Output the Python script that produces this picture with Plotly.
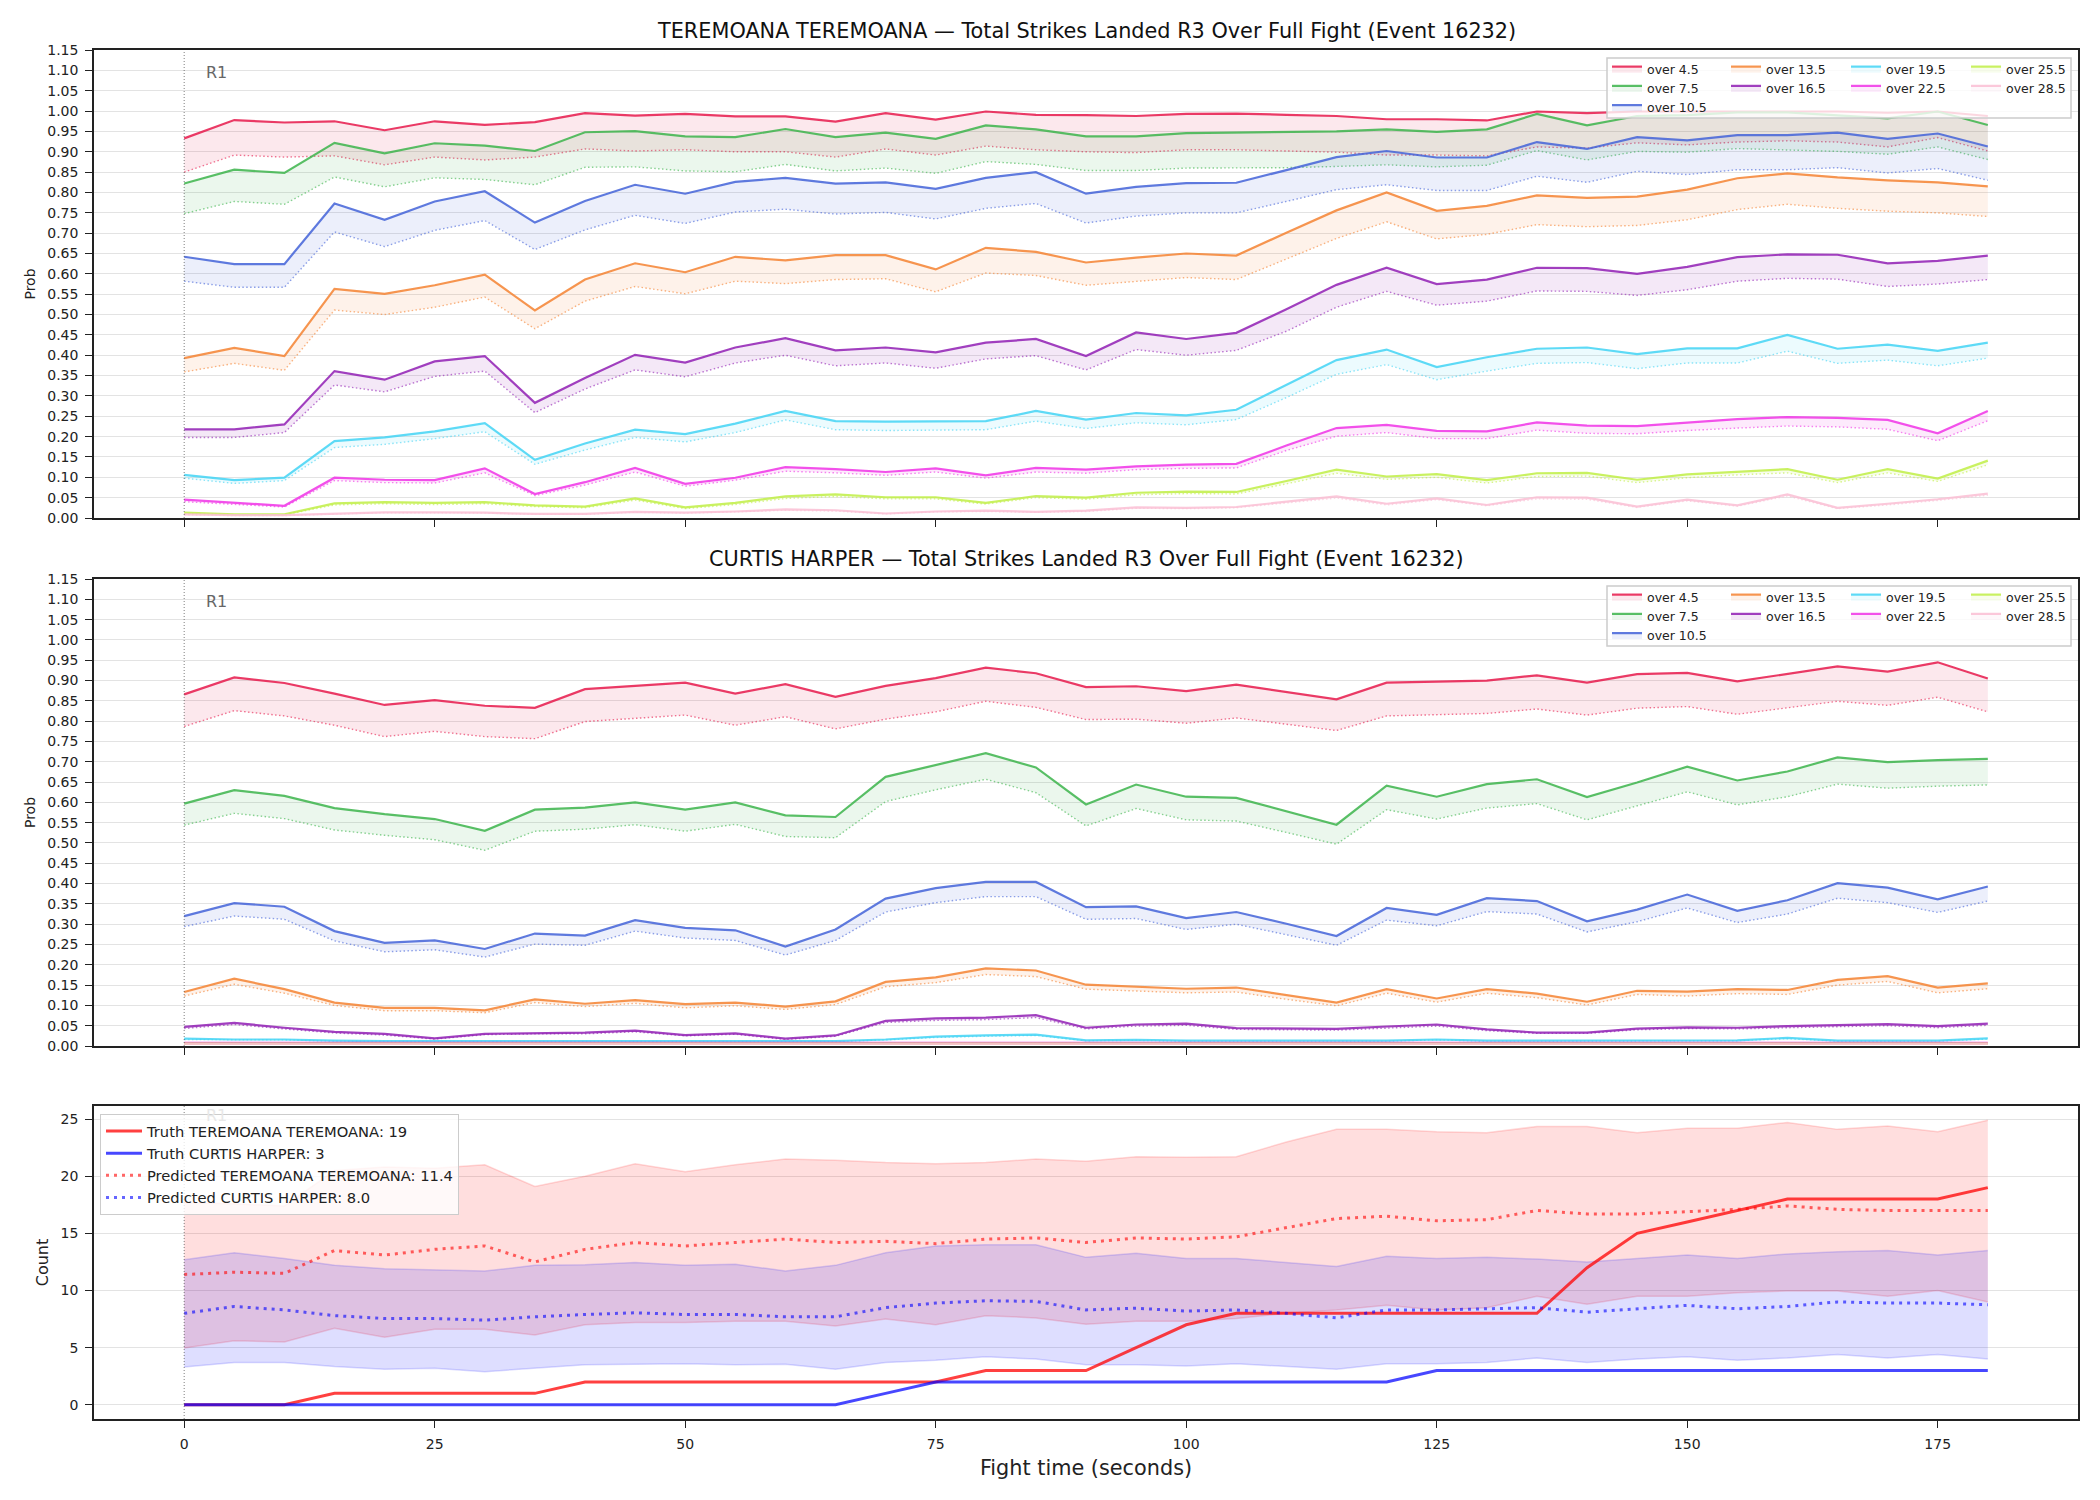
import plotly.graph_objects as go
from plotly.subplots import make_subplots

# ---------------- data ----------------
T = [0, 5, 10, 15, 20, 25, 30, 35, 40, 45, 50, 55, 60, 65, 70, 75, 80, 85,
     90, 95, 100, 105, 110, 115, 120, 125, 130, 135, 140, 145, 150, 155, 160, 165, 170, 175, 180]

LINE_NAMES = ['over 4.5', 'over 7.5', 'over 10.5', 'over 13.5', 'over 16.5',
              'over 19.5', 'over 22.5', 'over 25.5', 'over 28.5']
COLORS = ['#e6194b', '#3cb44b', '#4363d8', '#f58231', '#911eb4',
          '#42d4f4', '#f032e6', '#bfef45', '#fabed4']

TITLE_1 = 'TEREMOANA TEREMOANA \u2014 Total Strikes Landed R3 Over Full Fight (Event 16232)'
TITLE_2 = 'CURTIS HARPER \u2014 Total Strikes Landed R3 Over Full Fight (Event 16232)'

# TEREMOANA TEREMOANA: model probability (solid) and lower reference (dotted)
TER_O45 = [0.933, 0.978, 0.972, 0.975, 0.953, 0.975, 0.966, 0.973, 0.995, 0.989, 0.993, 0.987, 0.987, 0.974, 0.995, 0.979, 0.999, 0.991,
           0.990, 0.988, 0.993, 0.994, 0.991, 0.988, 0.980, 0.980, 0.977, 0.999, 0.995, 0.999, 0.999, 0.999, 0.999, 0.999, 0.996, 0.999, 0.988]
TER_O45_D = [0.850, 0.892, 0.887, 0.890, 0.868, 0.887, 0.880, 0.887, 0.907, 0.902, 0.905, 0.900, 0.900, 0.887, 0.907, 0.892, 0.914, 0.905,
             0.900, 0.898, 0.905, 0.905, 0.902, 0.899, 0.892, 0.892, 0.890, 0.912, 0.909, 0.922, 0.917, 0.924, 0.927, 0.924, 0.912, 0.935, 0.902]
TER_O75 = [0.822, 0.856, 0.848, 0.922, 0.896, 0.921, 0.915, 0.902, 0.948, 0.951, 0.938, 0.936, 0.956, 0.936, 0.947, 0.932, 0.965, 0.955,
           0.938, 0.938, 0.946, 0.947, 0.949, 0.950, 0.955, 0.949, 0.955, 0.993, 0.965, 0.988, 0.990, 0.997, 0.997, 0.990, 0.982, 0.999, 0.966]
TER_O75_D = [0.748, 0.778, 0.771, 0.838, 0.814, 0.836, 0.832, 0.819, 0.862, 0.863, 0.853, 0.851, 0.869, 0.853, 0.860, 0.847, 0.876, 0.869,
             0.854, 0.854, 0.860, 0.861, 0.861, 0.864, 0.868, 0.863, 0.867, 0.903, 0.880, 0.901, 0.899, 0.908, 0.905, 0.901, 0.894, 0.912, 0.881]
TER_O105 = [0.642, 0.624, 0.624, 0.773, 0.733, 0.778, 0.803, 0.726, 0.779, 0.819, 0.797, 0.826, 0.836, 0.822, 0.825, 0.809, 0.836, 0.850,
            0.797, 0.814, 0.823, 0.824, 0.855, 0.887, 0.902, 0.886, 0.886, 0.924, 0.907, 0.936, 0.928, 0.941, 0.941, 0.947, 0.932, 0.945, 0.913]
TER_O105_D = [0.582, 0.567, 0.567, 0.703, 0.667, 0.707, 0.731, 0.660, 0.708, 0.744, 0.724, 0.752, 0.759, 0.747, 0.751, 0.735, 0.761, 0.773,
              0.725, 0.742, 0.750, 0.750, 0.778, 0.807, 0.819, 0.805, 0.805, 0.840, 0.825, 0.852, 0.844, 0.856, 0.856, 0.861, 0.848, 0.859, 0.830]
TER_O135 = [0.393, 0.418, 0.398, 0.563, 0.551, 0.572, 0.598, 0.510, 0.586, 0.626, 0.604, 0.642, 0.633, 0.646, 0.646, 0.611, 0.664, 0.654,
            0.628, 0.640, 0.650, 0.645, 0.701, 0.756, 0.800, 0.755, 0.767, 0.793, 0.787, 0.790, 0.807, 0.835, 0.847, 0.837, 0.830, 0.825, 0.815]
TER_O135_D = [0.359, 0.380, 0.363, 0.511, 0.500, 0.518, 0.543, 0.465, 0.533, 0.569, 0.551, 0.582, 0.576, 0.586, 0.588, 0.556, 0.602, 0.596,
              0.572, 0.582, 0.591, 0.586, 0.636, 0.687, 0.728, 0.686, 0.697, 0.721, 0.716, 0.719, 0.733, 0.758, 0.771, 0.761, 0.754, 0.750, 0.741]
TER_O165 = [0.218, 0.218, 0.230, 0.361, 0.340, 0.385, 0.398, 0.283, 0.344, 0.401, 0.382, 0.419, 0.442, 0.412, 0.419, 0.407, 0.431, 0.440,
            0.398, 0.456, 0.440, 0.455, 0.513, 0.573, 0.615, 0.575, 0.586, 0.615, 0.614, 0.600, 0.617, 0.641, 0.648, 0.647, 0.626, 0.632, 0.645]
TER_O165_D = [0.198, 0.198, 0.210, 0.327, 0.310, 0.348, 0.361, 0.259, 0.317, 0.364, 0.347, 0.381, 0.400, 0.374, 0.381, 0.368, 0.391, 0.399,
              0.364, 0.414, 0.400, 0.412, 0.459, 0.518, 0.557, 0.523, 0.533, 0.558, 0.557, 0.547, 0.561, 0.582, 0.589, 0.587, 0.569, 0.575, 0.586]
TER_O195 = [0.106, 0.093, 0.099, 0.189, 0.198, 0.213, 0.233, 0.143, 0.183, 0.217, 0.206, 0.232, 0.263, 0.238, 0.237, 0.237, 0.238, 0.263,
            0.242, 0.258, 0.252, 0.266, 0.327, 0.388, 0.414, 0.371, 0.395, 0.416, 0.419, 0.403, 0.417, 0.417, 0.450, 0.416, 0.426, 0.411, 0.431]
TER_O195_D = [0.098, 0.085, 0.092, 0.173, 0.181, 0.195, 0.212, 0.132, 0.167, 0.198, 0.187, 0.210, 0.241, 0.217, 0.215, 0.216, 0.217, 0.238,
              0.220, 0.234, 0.229, 0.242, 0.296, 0.353, 0.377, 0.340, 0.361, 0.380, 0.382, 0.367, 0.381, 0.381, 0.410, 0.380, 0.388, 0.374, 0.393]
TER_O225 = [0.045, 0.037, 0.030, 0.099, 0.094, 0.093, 0.122, 0.059, 0.088, 0.123, 0.084, 0.099, 0.125, 0.120, 0.113, 0.122, 0.105, 0.123,
            0.119, 0.127, 0.131, 0.133, 0.178, 0.221, 0.229, 0.214, 0.213, 0.235, 0.227, 0.226, 0.235, 0.243, 0.248, 0.246, 0.241, 0.208, 0.263]
TER_O225_D = [0.040, 0.033, 0.027, 0.092, 0.087, 0.086, 0.111, 0.055, 0.081, 0.113, 0.078, 0.093, 0.115, 0.111, 0.105, 0.113, 0.098, 0.113,
              0.110, 0.119, 0.122, 0.123, 0.166, 0.201, 0.210, 0.195, 0.195, 0.216, 0.208, 0.207, 0.215, 0.221, 0.226, 0.224, 0.218, 0.190, 0.239]
TER_O255 = [0.013, 0.009, 0.009, 0.036, 0.039, 0.037, 0.039, 0.031, 0.028, 0.048, 0.026, 0.037, 0.053, 0.058, 0.051, 0.051, 0.037, 0.054,
            0.050, 0.062, 0.065, 0.064, 0.091, 0.119, 0.102, 0.108, 0.093, 0.110, 0.111, 0.094, 0.107, 0.114, 0.120, 0.094, 0.120, 0.097, 0.141]
TER_O255_D = [0.011, 0.008, 0.008, 0.032, 0.035, 0.033, 0.035, 0.028, 0.025, 0.044, 0.023, 0.033, 0.048, 0.053, 0.047, 0.047, 0.034, 0.050,
              0.046, 0.057, 0.060, 0.059, 0.084, 0.110, 0.095, 0.100, 0.086, 0.102, 0.103, 0.087, 0.099, 0.106, 0.111, 0.087, 0.111, 0.090, 0.131]
TER_O285 = [0.009, 0.007, 0.007, 0.011, 0.014, 0.014, 0.013, 0.010, 0.010, 0.015, 0.013, 0.016, 0.021, 0.019, 0.011, 0.016, 0.018, 0.015,
            0.018, 0.026, 0.025, 0.027, 0.040, 0.053, 0.035, 0.048, 0.032, 0.051, 0.050, 0.028, 0.045, 0.031, 0.058, 0.025, 0.035, 0.046, 0.060]
TER_O285_D = [0.008, 0.006, 0.006, 0.010, 0.013, 0.013, 0.012, 0.009, 0.009, 0.014, 0.012, 0.015, 0.019, 0.017, 0.010, 0.015, 0.016, 0.014,
              0.016, 0.024, 0.023, 0.025, 0.037, 0.049, 0.032, 0.045, 0.030, 0.047, 0.046, 0.026, 0.042, 0.029, 0.054, 0.023, 0.032, 0.043, 0.056]

# CURTIS HARPER
CUR_O45 = [0.866, 0.908, 0.894, 0.868, 0.840, 0.852, 0.838, 0.833, 0.879, 0.887, 0.895, 0.868, 0.891, 0.860, 0.887, 0.906, 0.932, 0.918,
           0.884, 0.886, 0.874, 0.890, 0.872, 0.854, 0.895, 0.898, 0.900, 0.913, 0.895, 0.916, 0.919, 0.898, 0.916, 0.935, 0.922, 0.945, 0.905]
CUR_O45_D = [0.787, 0.826, 0.813, 0.790, 0.762, 0.775, 0.762, 0.757, 0.799, 0.807, 0.815, 0.790, 0.811, 0.781, 0.805, 0.823, 0.849, 0.834,
             0.804, 0.805, 0.795, 0.808, 0.793, 0.777, 0.813, 0.816, 0.819, 0.830, 0.815, 0.832, 0.836, 0.817, 0.833, 0.849, 0.839, 0.859, 0.823]
CUR_O75 = [0.597, 0.630, 0.616, 0.586, 0.571, 0.559, 0.530, 0.582, 0.587, 0.600, 0.582, 0.600, 0.568, 0.564, 0.663, 0.692, 0.721, 0.686,
           0.595, 0.644, 0.614, 0.611, 0.578, 0.545, 0.641, 0.614, 0.645, 0.657, 0.613, 0.649, 0.688, 0.654, 0.676, 0.711, 0.699, 0.704, 0.707]
CUR_O75_D = [0.544, 0.573, 0.560, 0.532, 0.519, 0.508, 0.482, 0.529, 0.534, 0.545, 0.529, 0.546, 0.516, 0.513, 0.602, 0.631, 0.657, 0.624,
             0.542, 0.585, 0.557, 0.554, 0.526, 0.497, 0.582, 0.559, 0.586, 0.597, 0.557, 0.591, 0.626, 0.594, 0.614, 0.645, 0.635, 0.640, 0.643]
CUR_O105 = [0.320, 0.352, 0.343, 0.283, 0.254, 0.260, 0.239, 0.277, 0.272, 0.310, 0.291, 0.285, 0.245, 0.287, 0.363, 0.389, 0.404, 0.404,
            0.342, 0.344, 0.315, 0.330, 0.301, 0.271, 0.340, 0.323, 0.364, 0.357, 0.307, 0.336, 0.373, 0.333, 0.359, 0.401, 0.390, 0.361, 0.393]
CUR_O105_D = [0.294, 0.320, 0.312, 0.259, 0.232, 0.237, 0.219, 0.251, 0.248, 0.283, 0.266, 0.260, 0.224, 0.260, 0.330, 0.353, 0.368, 0.368,
              0.312, 0.314, 0.287, 0.300, 0.274, 0.248, 0.310, 0.296, 0.331, 0.325, 0.281, 0.306, 0.340, 0.304, 0.325, 0.364, 0.353, 0.329, 0.357]
CUR_O135 = [0.133, 0.166, 0.140, 0.107, 0.094, 0.094, 0.088, 0.115, 0.104, 0.113, 0.103, 0.107, 0.097, 0.110, 0.158, 0.169, 0.191, 0.186,
            0.151, 0.146, 0.141, 0.144, 0.125, 0.107, 0.140, 0.117, 0.140, 0.129, 0.109, 0.136, 0.134, 0.140, 0.138, 0.163, 0.172, 0.144, 0.154]
CUR_O135_D = [0.123, 0.152, 0.130, 0.100, 0.087, 0.087, 0.082, 0.107, 0.097, 0.105, 0.094, 0.099, 0.090, 0.102, 0.146, 0.156, 0.176, 0.171,
              0.140, 0.136, 0.131, 0.133, 0.115, 0.099, 0.130, 0.108, 0.130, 0.119, 0.101, 0.127, 0.123, 0.129, 0.127, 0.150, 0.159, 0.131, 0.141]
CUR_O165 = [0.047, 0.057, 0.045, 0.035, 0.030, 0.019, 0.030, 0.032, 0.033, 0.038, 0.027, 0.031, 0.018, 0.026, 0.062, 0.068, 0.070, 0.076,
            0.045, 0.053, 0.055, 0.044, 0.043, 0.042, 0.048, 0.053, 0.041, 0.033, 0.033, 0.043, 0.046, 0.045, 0.049, 0.052, 0.054, 0.049, 0.055]
CUR_O165_D = [0.043, 0.053, 0.042, 0.032, 0.027, 0.017, 0.028, 0.030, 0.030, 0.035, 0.025, 0.029, 0.016, 0.024, 0.058, 0.063, 0.065, 0.070,
              0.042, 0.049, 0.051, 0.041, 0.040, 0.039, 0.044, 0.049, 0.038, 0.031, 0.031, 0.040, 0.043, 0.042, 0.045, 0.048, 0.050, 0.045, 0.051]
CUR_O195 = [0.018, 0.016, 0.016, 0.013, 0.012, 0.012, 0.012, 0.012, 0.012, 0.012, 0.012, 0.012, 0.012, 0.012, 0.016, 0.023, 0.026, 0.028,
            0.014, 0.015, 0.013, 0.013, 0.013, 0.013, 0.013, 0.016, 0.013, 0.013, 0.013, 0.013, 0.013, 0.014, 0.020, 0.013, 0.013, 0.013, 0.019]
CUR_O195_D = [0.016, 0.015, 0.015, 0.012, 0.011, 0.011, 0.011, 0.011, 0.011, 0.011, 0.011, 0.011, 0.011, 0.011, 0.015, 0.021, 0.024, 0.026,
              0.013, 0.014, 0.012, 0.012, 0.012, 0.012, 0.012, 0.015, 0.012, 0.012, 0.012, 0.012, 0.012, 0.013, 0.018, 0.012, 0.012, 0.012, 0.017]
CUR_O225 = [0.008, 0.008, 0.008, 0.007, 0.007, 0.007, 0.007, 0.007, 0.007, 0.007, 0.007, 0.007, 0.007, 0.007, 0.008, 0.008, 0.008, 0.008,
            0.007, 0.007, 0.007, 0.007, 0.007, 0.007, 0.007, 0.007, 0.007, 0.007, 0.007, 0.007, 0.007, 0.007, 0.008, 0.007, 0.007, 0.007, 0.008]
CUR_O225_D = [0.007, 0.007, 0.007, 0.006, 0.006, 0.006, 0.006, 0.006, 0.006, 0.006, 0.006, 0.006, 0.006, 0.006, 0.007, 0.007, 0.007, 0.007,
              0.006, 0.006, 0.006, 0.006, 0.006, 0.006, 0.006, 0.006, 0.006, 0.006, 0.006, 0.006, 0.006, 0.006, 0.007, 0.006, 0.006, 0.006, 0.007]
CUR_O255 = [0.006, 0.006, 0.006, 0.006, 0.006, 0.006, 0.006, 0.006, 0.006, 0.006, 0.006, 0.006, 0.006, 0.006, 0.006, 0.006, 0.007, 0.007,
            0.006, 0.006, 0.006, 0.006, 0.006, 0.006, 0.006, 0.006, 0.006, 0.006, 0.006, 0.006, 0.006, 0.006, 0.006, 0.006, 0.006, 0.006, 0.006]
CUR_O255_D = [0.005, 0.005, 0.005, 0.005, 0.005, 0.005, 0.005, 0.005, 0.005, 0.005, 0.005, 0.005, 0.005, 0.005, 0.005, 0.005, 0.006, 0.006,
              0.005, 0.005, 0.005, 0.005, 0.005, 0.005, 0.005, 0.005, 0.005, 0.005, 0.005, 0.005, 0.005, 0.005, 0.005, 0.005, 0.005, 0.005, 0.005]
CUR_O285 = [0.005, 0.005, 0.005, 0.005, 0.005, 0.005, 0.005, 0.005, 0.005, 0.005, 0.005, 0.005, 0.005, 0.005, 0.005, 0.005, 0.005, 0.005,
            0.005, 0.005, 0.005, 0.005, 0.005, 0.005, 0.005, 0.005, 0.005, 0.005, 0.005, 0.005, 0.005, 0.005, 0.005, 0.005, 0.005, 0.005, 0.005]
CUR_O285_D = [0.004, 0.004, 0.004, 0.004, 0.004, 0.004, 0.004, 0.004, 0.004, 0.004, 0.004, 0.004, 0.004, 0.004, 0.004, 0.004, 0.004, 0.004,
              0.004, 0.004, 0.004, 0.004, 0.004, 0.004, 0.004, 0.004, 0.004, 0.004, 0.004, 0.004, 0.004, 0.004, 0.004, 0.004, 0.004, 0.004, 0.004]

# Count panel
TRUTH_TER = [0, 0, 0, 1, 1, 1, 1, 1, 2, 2, 2, 2, 2, 2, 2, 2, 3, 3,
             3, 5, 7, 8, 8, 8, 8, 8, 8, 8, 12, 15, 16, 17, 18, 18, 18, 18, 19]
TRUTH_CUR = [0, 0, 0, 0, 0, 0, 0, 0, 0, 0, 0, 0, 0, 0, 1, 2, 2, 2,
             2, 2, 2, 2, 2, 2, 2, 3, 3, 3, 3, 3, 3, 3, 3, 3, 3, 3, 3]
PRED_TER = [11.4, 11.6, 11.5, 13.5, 13.1, 13.6, 13.9, 12.5, 13.6, 14.2, 13.9, 14.2, 14.5, 14.2, 14.3, 14.1, 14.5, 14.6,
            14.2, 14.6, 14.5, 14.7, 15.5, 16.3, 16.5, 16.1, 16.2, 17.0, 16.7, 16.7, 16.9, 17.1, 17.4, 17.1, 17.0, 17.0, 17.0]
PRED_TER_HI = [17.7, 17.6, 17.4, 20.5, 20.8, 20.7, 21.0, 19.1, 20.0, 21.1, 20.4, 21.0, 21.5, 21.4, 21.2, 21.1, 21.2, 21.5,
               21.3, 21.7, 21.65, 21.7, 23.0, 24.1, 24.1, 23.9, 23.8, 24.35, 24.35, 23.8, 24.2, 24.2, 24.7, 24.1, 24.4, 23.9, 24.9]
PRED_TER_LO = [4.96, 5.6, 5.5, 6.7, 5.9, 6.6, 6.6, 6.1, 7.0, 7.2, 7.2, 7.3, 7.3, 6.9, 7.5, 7.0, 7.8, 7.6,
               7.05, 7.3, 7.3, 7.55, 8.0, 8.3, 8.7, 8.3, 8.5, 9.5, 8.8, 9.5, 9.5, 9.8, 9.96, 9.96, 9.5, 10.0, 9.0]
PRED_CUR = [8.0, 8.6, 8.3, 7.8, 7.55, 7.55, 7.4, 7.7, 7.9, 8.05, 7.9, 7.9, 7.7, 7.7, 8.5, 8.9, 9.1, 9.05,
            8.3, 8.45, 8.2, 8.3, 8.0, 7.6, 8.3, 8.3, 8.4, 8.5, 8.1, 8.4, 8.7, 8.4, 8.6, 9.0, 8.9, 8.9, 8.75]
PRED_CUR_HI = [12.7, 13.3, 12.8, 12.2, 11.9, 11.8, 11.7, 12.2, 12.25, 12.45, 12.2, 12.3, 11.7, 12.2, 13.3, 13.9, 14.0, 14.0,
               12.9, 13.25, 12.8, 12.8, 12.45, 12.1, 13.0, 12.8, 12.9, 12.75, 12.5, 12.8, 13.1, 12.8, 13.2, 13.4, 13.5, 13.1, 13.5]
PRED_CUR_LO = [3.3, 3.7, 3.7, 3.35, 3.1, 3.2, 2.9, 3.2, 3.5, 3.55, 3.6, 3.5, 3.55, 3.1, 3.7, 3.9, 4.2, 4.0,
               3.5, 3.5, 3.4, 3.6, 3.35, 3.1, 3.6, 3.6, 3.7, 4.1, 3.7, 4.0, 4.2, 3.9, 4.1, 4.4, 4.1, 4.4, 4.0]

TER_SOLID = [TER_O45, TER_O75, TER_O105, TER_O135, TER_O165, TER_O195, TER_O225, TER_O255, TER_O285]
TER_DOT = [TER_O45_D, TER_O75_D, TER_O105_D, TER_O135_D, TER_O165_D, TER_O195_D, TER_O225_D, TER_O255_D, TER_O285_D]
CUR_SOLID = [CUR_O45, CUR_O75, CUR_O105, CUR_O135, CUR_O165, CUR_O195, CUR_O225, CUR_O255, CUR_O285]
CUR_DOT = [CUR_O45_D, CUR_O75_D, CUR_O105_D, CUR_O135_D, CUR_O165_D, CUR_O195_D, CUR_O225_D, CUR_O255_D, CUR_O285_D]

# ---------------- figure ----------------
FONT = 'DejaVu Sans'
W, H = 2100, 1500
ML, MR, MT, MB = 94, 22, 50, 81
PW = W - ML - MR
PH = H - MT - MB


def px_x(px):
    return (px - ML) / PW


def px_y(py):
    return (H - MB - py) / PH


def rgba(hexc, a):
    h = hexc.lstrip('#')
    r, g, b = int(h[0:2], 16), int(h[2:4], 16), int(h[4:6], 16)
    return 'rgba(%d,%d,%d,%.3f)' % (r, g, b, a)


fig = make_subplots(rows=3, cols=1)

COL_OF = [0, 0, 0, 1, 1, 2, 2, 3, 3]
panel_sets = [(TER_SOLID, TER_DOT, 0), (CUR_SOLID, CUR_DOT, 4)]
for p, (solids, dots, lg0) in enumerate(panel_sets):
    row = p + 1
    for i in range(9):
        c = COLORS[i]
        fig.add_trace(go.Scatter(
            x=T, y=dots[i], mode='lines',
            line=dict(color=rgba(c, 0.6), width=1.4, dash='1.5px,2.4px'),
            showlegend=False, hoverinfo='skip'), row=row, col=1)
        lg_idx = lg0 + COL_OF[i] + 1
        lg_name = 'legend' if lg_idx == 1 else 'legend%d' % lg_idx
        fig.add_trace(go.Scatter(
            x=T, y=solids[i], mode='lines', name=LINE_NAMES[i],
            line=dict(color=rgba(c, 0.85), width=2.2),
            fill='tonexty', fillcolor=rgba(c, 0.10),
            legend=lg_name, showlegend=True), row=row, col=1)

# count panel bands
fig.add_trace(go.Scatter(x=T, y=PRED_TER_LO, mode='lines', line=dict(color='rgba(255,0,0,0.15)', width=1.5),
                         showlegend=False, hoverinfo='skip'), row=3, col=1)
fig.add_trace(go.Scatter(x=T, y=PRED_TER_HI, mode='lines', line=dict(color='rgba(255,0,0,0.15)', width=1.5),
                         fill='tonexty', fillcolor='rgba(255,0,0,0.13)', showlegend=False, hoverinfo='skip'), row=3, col=1)
fig.add_trace(go.Scatter(x=T, y=PRED_CUR_LO, mode='lines', line=dict(color='rgba(0,0,255,0.15)', width=1.5),
                         showlegend=False, hoverinfo='skip'), row=3, col=1)
fig.add_trace(go.Scatter(x=T, y=PRED_CUR_HI, mode='lines', line=dict(color='rgba(0,0,255,0.15)', width=1.5),
                         fill='tonexty', fillcolor='rgba(0,0,255,0.13)', showlegend=False, hoverinfo='skip'), row=3, col=1)
fig.add_trace(go.Scatter(x=T, y=TRUTH_TER, mode='lines', name='Truth TEREMOANA TEREMOANA: 19',
                         line=dict(color='rgba(255,0,0,0.75)', width=3), legend='legend9'), row=3, col=1)
fig.add_trace(go.Scatter(x=T, y=TRUTH_CUR, mode='lines', name='Truth CURTIS HARPER: 3',
                         line=dict(color='rgba(0,0,255,0.72)', width=3), legend='legend9'), row=3, col=1)
fig.add_trace(go.Scatter(x=T, y=PRED_TER, mode='lines', name='Predicted TEREMOANA TEREMOANA: 11.4',
                         line=dict(color='rgba(255,0,0,0.6)', width=3, dash='3px,5px'), legend='legend9'), row=3, col=1)
fig.add_trace(go.Scatter(x=T, y=PRED_CUR, mode='lines', name='Predicted CURTIS HARPER: 8.0',
                         line=dict(color='rgba(0,0,255,0.6)', width=3, dash='3px,5px'), legend='legend9'), row=3, col=1)

# ---------------- axes ----------------
axis_common = dict(showline=True, linecolor='#222222', linewidth=1.5, mirror=True,
                   ticks='outside', ticklen=7, tickwidth=1.3, tickcolor='#222222',
                   tickfont=dict(family=FONT, size=14, color='#222222'), zeroline=False,
                   ticklabelstandoff=4)
XT = [0, 25, 50, 75, 100, 125, 150, 175]
for k, dom in zip(['', '2', '3'], [[px_y(518), 1.0], [px_y(1046), px_y(579)], [0.0, px_y(1106)]]):
    fig.layout['xaxis' + k].update(range=[-9, 189], tickvals=XT, showgrid=False,
                                   showticklabels=(k == '3'), **axis_common)
    fig.layout['yaxis' + k].update(domain=dom, showgrid=True, gridcolor='#e3e3e3', gridwidth=1, **axis_common)

for k in ['', '2']:
    fig.layout['yaxis' + k].update(range=[0, 1.1502], dtick=0.05, tick0=0, tickformat='.2f',
                                   title=dict(text='Prob', font=dict(family=FONT, size=14, color='#222'), standoff=8))
fig.layout.yaxis3.update(range=[-1.245, 26.145], dtick=5, tick0=0,
                         title=dict(text='Count', font=dict(family=FONT, size=16, color='#222'), standoff=8))
fig.layout.xaxis3.update(title=dict(text='Fight time (seconds)', font=dict(family=FONT, size=20.8, color='#222'), standoff=10))

# vertical round marker lines
shapes = []
for k in ['', '2', '3']:
    shapes.append(dict(type='line', xref='x' + k, yref=('y' + k + ' domain'), x0=0, x1=0, y0=0, y1=1,
                       line=dict(color='rgba(70,70,70,0.7)', width=1, dash='1px,2px'), layer='above'))

# legend frames for the two probability panels
for top_px in [58, 586]:
    shapes.append(dict(type='rect', xref='paper', yref='paper',
                       x0=px_x(1607), x1=px_x(2071), y0=px_y(top_px + 60), y1=px_y(top_px),
                       line=dict(color='#cccccc', width=1.5), fillcolor='rgba(255,255,255,0.8)', layer='above'))
fig.update_layout(shapes=shapes)

# legends
col_px = [1607, 1726, 1846, 1966]
leg_common = dict(xanchor='left', yanchor='top', bgcolor='rgba(0,0,0,0)', borderwidth=0,
                  font=dict(family=FONT, size=12.5, color='#222222'), tracegroupgap=0,
                  orientation='v', itemwidth=30, traceorder='normal')
legends = {}
for p, top_px in enumerate([58, 586]):
    for cidx in range(4):
        idx = p * 4 + cidx + 1
        name = 'legend' if idx == 1 else 'legend%d' % idx
        legends[name] = dict(x=px_x(col_px[cidx]), y=px_y(top_px - 4), **leg_common)
legends['legend9'] = dict(x=px_x(100), y=px_y(1114), xanchor='left', yanchor='top',
                          bgcolor='rgba(255,255,255,0.8)', bordercolor='#cccccc', borderwidth=1,
                          font=dict(family=FONT, size=14.7, color='#222222'), tracegroupgap=0,
                          itemwidth=36, traceorder='normal')
fig.update_layout(**legends)

annotations = [
    dict(text=TITLE_1, xref='paper', yref='paper', x=0.5, y=px_y(31), xanchor='center', yanchor='middle',
         showarrow=False, font=dict(family=FONT, size=20.8, color='#111111')),
    dict(text=TITLE_2, xref='paper', yref='paper', x=0.5, y=px_y(559), xanchor='center', yanchor='middle',
         showarrow=False, font=dict(family=FONT, size=20.8, color='#111111')),
    dict(text='R1', xref='x', yref='y', x=2, y=1.096, xanchor='left', yanchor='middle', showarrow=False,
         font=dict(family=FONT, size=16, color='#666666')),
    dict(text='R1', xref='x2', yref='y2', x=2, y=1.096, xanchor='left', yanchor='middle', showarrow=False,
         font=dict(family=FONT, size=16, color='#666666')),
    dict(text='R1', xref='x3', yref='y3', x=2, y=25.3, xanchor='left', yanchor='middle', showarrow=False,
         font=dict(family=FONT, size=16, color='#e8e8e8')),
]
fig.update_layout(annotations=annotations)

fig.update_layout(width=W, height=H, autosize=False,
                  margin=dict(l=ML, r=MR, t=MT, b=MB),
                  paper_bgcolor='white', plot_bgcolor='white',
                  font=dict(family=FONT, color='#222222'),
                  hovermode=False)

fig.write_html('out.html')
